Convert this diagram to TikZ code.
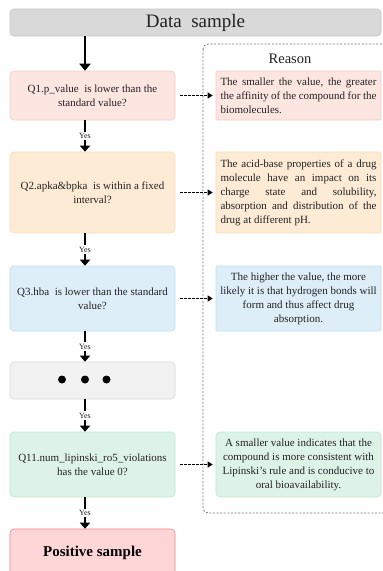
\documentclass[tikz,border=0pt]{standalone}
\usepackage{fontspec}
\setmainfont{Liberation Serif}
\usetikzlibrary{arrows.meta}
\definecolor{pinkfill}{HTML}{FDE5E2}
\definecolor{pinkdraw}{HTML}{F7C9C3}
\definecolor{orangefill}{HTML}{FDEBD5}
\definecolor{orangedraw}{HTML}{F9DDB8}
\definecolor{bluefill}{HTML}{DDEEF9}
\definecolor{bluedraw}{HTML}{BCDDF3}
\definecolor{grayfill}{HTML}{F2F2F2}
\definecolor{graydraw}{HTML}{D9D9D9}
\definecolor{greenfill}{HTML}{DEF3E8}
\definecolor{greendraw}{HTML}{BDE5CD}
\definecolor{posfill}{HTML}{FFD6D8}
\definecolor{posdraw}{HTML}{EE7F8A}
\definecolor{datafill}{HTML}{D9D9D9}
\definecolor{datadraw}{HTML}{C4C4C4}
\definecolor{txt}{HTML}{222222}
\newcommand{\jl}[1]{\makebox[156pt][s]{#1}}
\tikzset{
  qbox/.style={draw, line width=0.6pt, rounded corners=4pt, minimum width=165pt, inner sep=0pt, align=center, text=txt, font=\fontsize{11}{14}\selectfont},
  rbox/.style={draw, line width=0.6pt, rounded corners=1pt, minimum width=165pt, inner sep=0pt, text=txt, font=\fontsize{11}{14}\selectfont},
  yesarrow/.style={line width=2pt, -{Triangle[width=10pt,length=6pt]}},
  yeslab/.style={fill=white, inner sep=1.5pt, text=txt, font=\fontsize{8}{9}\selectfont},
  dasharrow/.style={line width=1.2pt, dash pattern=on 2.5pt off 1.5pt, -{Triangle[width=6pt,length=5pt]}, shorten <=5pt, shorten >=3pt},
}
\begin{document}
\begin{tikzpicture}[x=1pt,y=-1pt]
\useasboundingbox (0,0) rectangle (383,571);
\clip (0,0) rectangle (383,571);
% container
\draw[line width=0.8pt, draw=black!55, dash pattern=on 2pt off 1.6pt, rounded corners=5pt] (203,44) rectangle (400,513);
\node[text=txt, font=\fontsize{14.5}{16}\selectfont] (reason) at (290,59) {Reason};
% data sample
\node[draw=datadraw, fill=datafill, line width=0.6pt, rounded corners=4pt, minimum width=371pt, minimum height=27pt, inner sep=0pt, text=txt, font=\fontsize{19}{22}\selectfont] (data) at (195.5,22.5) {Data\ \ sample};
% questions
\node[qbox, fill=pinkfill, draw=pinkdraw, minimum height=49pt] (q1) at (92.5,95.5) {Q1.p\_value\ \ is lower than the\\standard value?};
\node[qbox, fill=orangefill, draw=orangedraw, minimum height=81pt] (q2) at (92.5,192.5) {Q2.apka\&bpka\ \ is within a fixed\\interval?};
\node[qbox, fill=bluefill, draw=bluedraw, minimum height=65pt] (q3) at (92.5,298.5) {Q3.hba\ \ is lower than the standard\\value?};
\node[qbox, fill=grayfill, draw=graydraw, minimum height=37pt] (dots) at (92.5,380.5) {};
\fill (dots.center) ++(-30.5,-1) circle (4pt);
\fill (dots.center) ++(-7.5,-1) circle (4pt);
\fill (dots.center) ++(14,-1) circle (4pt);
\node[qbox, fill=greenfill, draw=greendraw, minimum height=65pt] (q11) at (92.5,464.5) {Q11.num\_lipinski\_ro5\_violations\\has the value 0?};
\node[qbox, fill=posfill, draw=posdraw, minimum height=48pt, font=\fontsize{15}{18}\selectfont\bfseries, text=black] (pos) at (92.5,553) {Positive sample};
% reasons
\node[rbox, fill=pinkfill, draw=pinkdraw, minimum height=49pt, align=left] (r1) at (298.5,95.5) {\jl{The smaller the value, the greater}\\\jl{the affinity of the compound for the}\\biomolecules.};
\node[rbox, fill=orangefill, draw=orangedraw, minimum height=81pt, align=left] (r2) at (298.5,192.5) {\jl{The acid-base properties of a drug}\\\jl{molecule have an impact on its}\\\jl{charge state and solubility,}\\\jl{absorption and distribution of the}\\drug at different pH.};
\node[rbox, fill=bluefill, draw=bluedraw, minimum height=65pt, align=center] (r3) at (298.5,298.5) {The higher the value, the more\\likely it is that hydrogen bonds will\\form and thus affect drug\\absorption.};
\node[rbox, fill=greenfill, draw=greendraw, minimum height=65pt, rounded corners=4pt, align=center] (r4) at (298.5,464.5) {A smaller value indicates that the\\compound is more consistent with\\Lipinski's rule and is conducive to\\oral bioavailability.};
% arrows (offset left of box centre, as in the reference)
\draw[line width=2pt, -{Triangle[width=11pt,length=7pt]}] ([xshift=-7.5pt]data.south -| q1.north) -- ([xshift=-7.5pt]q1.north);
\draw[yesarrow] ([xshift=-7.5pt]q1.south) -- node[yeslab] {Yes} ([xshift=-7.5pt]q2.north);
\draw[yesarrow] ([xshift=-7.5pt]q2.south) -- node[yeslab] {Yes} ([xshift=-7.5pt]q3.north);
\draw[yesarrow] ([xshift=-7.5pt]q3.south) -- node[yeslab] {Yes} ([xshift=-7.5pt]dots.north);
\draw[yesarrow] ([xshift=-7.5pt]dots.south) -- node[yeslab] {Yes} ([xshift=-7.5pt]q11.north);
\draw[yesarrow] ([xshift=-7.5pt]q11.south) -- node[yeslab] {Yes} ([xshift=-7.5pt]pos.north);
\draw[dasharrow] (q1) -- (r1);
\draw[dasharrow] (q2) -- (r2);
\draw[dasharrow] (q3) -- (r3);
\draw[dasharrow] (q11) -- (r4);
\end{tikzpicture}
\end{document}
